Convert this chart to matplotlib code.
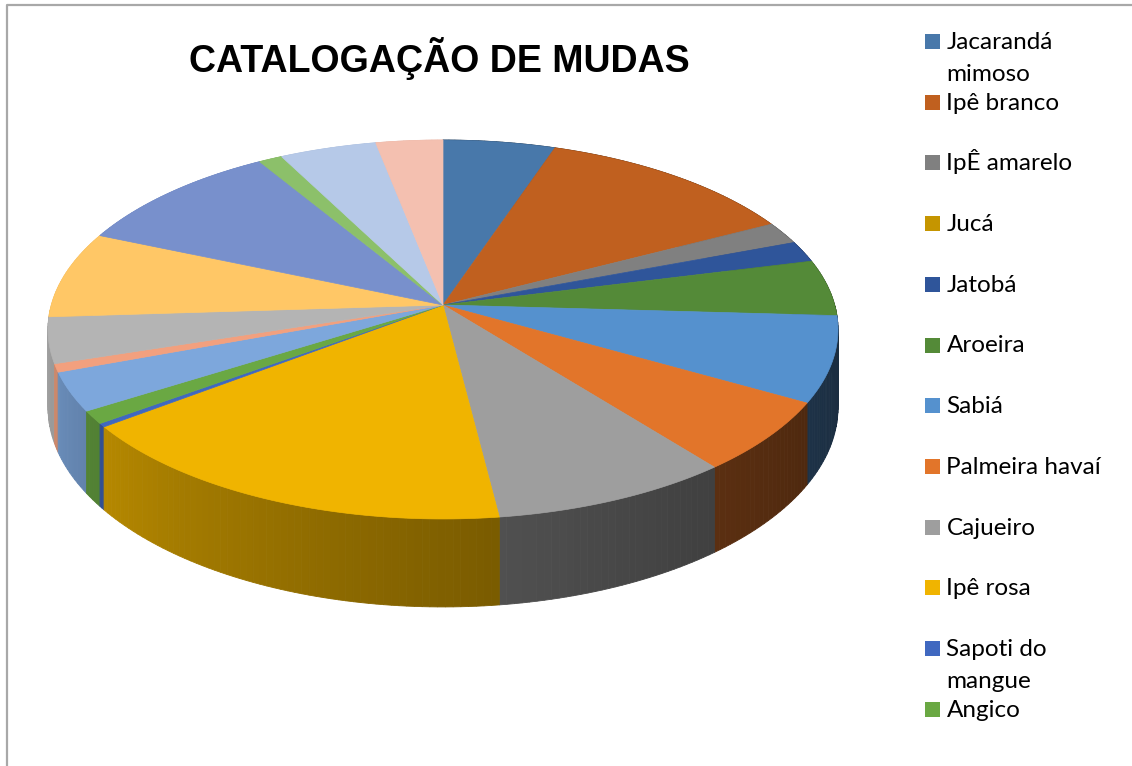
import textwrap
import numpy as np
import matplotlib
matplotlib.use("Agg")
import matplotlib.pyplot as plt
from matplotlib.patches import Polygon, Rectangle
from matplotlib.colors import to_rgb

# ---------------- data ----------------
title = "CATALOGAÇÃO DE MUDAS"
# legend entries visible in the chart (the legend is cut after 12 entries)
categories = ["Jacarandá mimoso", "Ipê branco", "IpÊ amarelo", "Jucá", "Jatobá",
              "Aroeira", "Sabiá", "Palmeira havaí", "Cajueiro", "Ipê rosa",
              "Sapoti do mangue", "Angico"]
# slice values (share of the pie, %), clockwise from 12 o'clock; 20 slices
values = [5.2, 12.2, 1.9, 0.0, 1.8, 4.8, 7.3, 6.1, 8.7, 16.7,
          0.3, 1.1, 3.3, 0.7, 3.9, 7.4, 9.9, 1.1, 4.5, 3.1]
colors = ["#4878AA", "#C0601F", "#808080", "#C59500", "#2F559A", "#548A38",
          "#5591CE", "#E2752A", "#9E9E9E", "#F0B400", "#4068C0", "#6AA843",
          "#7DA7DC", "#F2A07E", "#B4B4B4", "#FFC766", "#7890CC", "#8CC06A",
          "#B6C9E8", "#F4C0B0"]

# ---------------- figure ----------------
W, H = 1132, 766
fig = plt.figure(figsize=(W / 100, H / 100), dpi=100)
ax = fig.add_axes([0, 0, 1, 1])
ax.set_xlim(0, W)
ax.set_ylim(H, 0)
ax.axis("off")

# chart border
ax.plot([7, 7, W], [H, 5, 5], color="#A8A8A8", lw=1.6, solid_capstyle="butt")

# ---------------- 3D pie geometry ----------------
cx, cy0 = 443.0, 305.0     # apex of the slices
B, A, k = 391.7, 186.3, 0.1293
D = 76.6                   # wall depth


def proj(theta, h=0.0):
    u, v = np.sin(theta), np.cos(theta)
    w = 1.0 + k * v
    return cx + B * u / w, cy0 - A * v / w + D * h / w


def shade(theta_deg):
    t = np.clip((theta_deg - 90.0) / 180.0, 0, 1)
    return 0.30 + 0.64 * t ** 1.45


vals = np.array(values, dtype=float)
fr = vals / vals.sum()
edges = np.concatenate([[0], np.cumsum(fr)]) * 2 * np.pi

# walls (strips), back to front
strips = []
for i in range(len(vals)):
    a0, a1 = edges[i], edges[i + 1]
    if a1 - a0 <= 0:
        continue
    n = max(2, int(np.ceil(np.degrees(a1 - a0) / 1.0)))
    ts = np.linspace(a0, a1, n + 1)
    for j in range(n):
        t1, t2 = ts[j], ts[j + 1]
        tm = 0.5 * (t1 + t2)
        strips.append((np.cos(tm), i, t1, t2, tm))
strips.sort(key=lambda s: -s[0])
for _, i, t1, t2, tm in strips:
    x1, y1 = proj(t1)
    x2, y2 = proj(t2)
    x3, y3 = proj(t2, 1)
    x4, y4 = proj(t1, 1)
    c = np.array(to_rgb(colors[i])) * shade(np.degrees(tm) % 360)
    c = np.clip(c, 0, 1)
    ax.add_patch(Polygon([[x1, y1], [x2, y2], [x3, y3], [x4, y4]],
                         closed=True, facecolor=c, edgecolor=c, lw=0.6))

# top faces
for i in range(len(vals)):
    a0, a1 = edges[i], edges[i + 1]
    if a1 - a0 <= 0:
        continue
    ts = np.linspace(a0, a1, max(3, int(np.degrees(a1 - a0)) + 2))
    xs, ys = proj(ts)
    pts = np.column_stack([np.concatenate([[cx], xs]), np.concatenate([[cy0], ys])])
    ax.add_patch(Polygon(pts, closed=True, facecolor=colors[i],
                         edgecolor=colors[i], lw=0.5))

# ---------------- title ----------------
ax.text(439, 72, title, ha="center", va="baseline", fontsize=27,
        fontweight="bold", family="Liberation Sans", color="black")

# ---------------- legend ----------------
lx_box, lx_txt = 925, 946.5
base0, step, line_step = 49, 60.7, 32
for i, name in enumerate(categories):
    yb = base0 + step * i
    ax.add_patch(Rectangle((lx_box, yb - 15), 15, 15, facecolor=colors[i],
                           edgecolor="none"))
    for j, line in enumerate(textwrap.wrap(name, 14)):
        ax.text(lx_txt, yb + j * line_step, line, ha="left", va="baseline",
                fontsize=17.5, family="Lato", color="black")

fig.savefig("out.png", dpi=100)
